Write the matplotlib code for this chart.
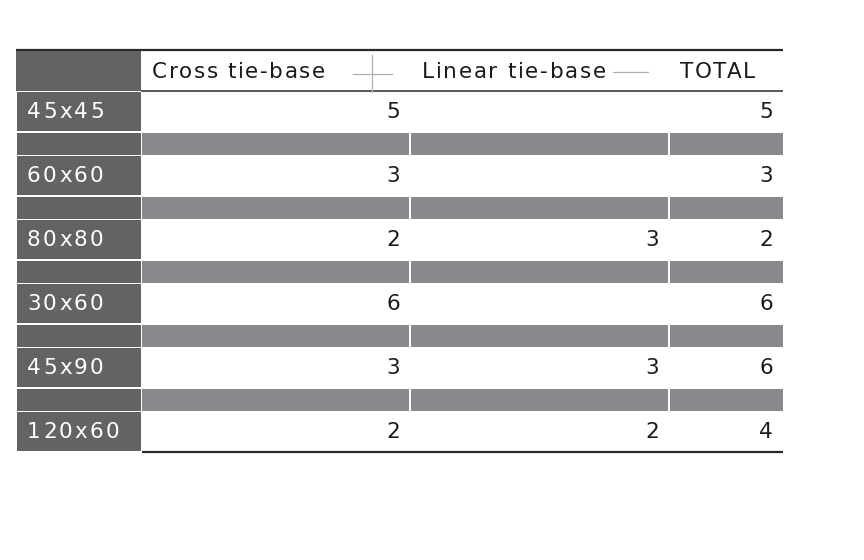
import matplotlib
matplotlib.use("Agg")
import matplotlib.pyplot as plt
from matplotlib.patches import Rectangle
from matplotlib.font_manager import FontProperties, findfont, get_font

# table content
row_labels = ["45x45", "60x60", "80x80", "30x60", "45x90", "120x60"]
col_headers = ["Cross tie-base", "Linear tie-base", "TOTAL"]
cross_vals = [5, 3, 2, 6, 3, 2]
linear_vals = [None, None, 3, None, 3, 2]
total_vals = [5, 3, 2, 6, 6, 4]

DARK = "#636366"
MID = "#88898c"
INK = "#1a1a1a"
FS = 15.5

# layout in pixels
W, H = 864, 560
x_left, x_lab = 16, 141
col_edges = [141, 410, 669, 783]
top = 50
head_bot = 91
row0 = 92
period = 64
row_h = 39
sep_h = 22
gap = 1.5

fig = plt.figure(figsize=(W / 100, H / 100), dpi=100)
ax = fig.add_axes([0, 0, 1, 1])
ax.set_xlim(0, W)
ax.set_ylim(H, 0)
ax.axis("off")
prop = FontProperties(family="DejaVu Sans", size=FS)
ft = get_font(findfont(prop))
ft.set_size(FS, 100)


def advance(ch):
    g = ft.load_char(ord(ch))
    return g.linearHoriAdvance / 65536


def tracked(x, y, s, width, color=INK):
    # spread the characters of s so that it spans roughly `width` pixels
    adv = [advance(c) for c in s]
    track = (width - sum(adv)) / (len(s) - 1)
    for ch, a in zip(s, adv):
        if ch != " ":
            ax.text(x, y, ch, ha="left", va="center", fontproperties=prop, color=color)
        x += a + track


# header
ax.add_patch(Rectangle((x_left, top), x_lab - x_left, head_bot - top, color=DARK, lw=0))
ax.plot([x_left, col_edges[-1]], [top, top], color="#2a2a2a", lw=1.6, solid_capstyle="butt")
ax.plot([x_lab, col_edges[-1]], [head_bot, head_bot], color="#2a2a2a", lw=1.1, solid_capstyle="butt")

hy = 72
tracked(152, hy, col_headers[0], 173)
ax.plot([353, 392], [74, 74], color="#b0b0b0", lw=0.9)
ax.plot([372, 372], [55, 92], color="#b0b0b0", lw=0.9)
tracked(422, hy, col_headers[1], 184)
ax.plot([613, 648], [72, 72], color="#b0b0b0", lw=0.9)
tracked(680, hy, col_headers[2], 75)

label_adv = sum(advance(c) for c in "45x45")
label_track = (76.5 - label_adv) / 4

n = len(row_labels)
for i in range(n):
    y0 = row0 + i * period
    ax.add_patch(Rectangle((x_left + 1, y0), x_lab - x_left - 1, row_h, color=DARK, lw=0))
    cy = y0 + row_h / 2 + 1
    lab = row_labels[i]
    tracked(27, cy, lab, sum(advance(c) for c in lab) + label_track * (len(lab) - 1), color="white")
    for j, vals in enumerate([cross_vals, linear_vals, total_vals]):
        v = vals[i]
        if v is not None:
            ax.text(col_edges[j + 1] - 10, cy, str(v), ha="right", va="center",
                    fontproperties=prop, color=INK)
    if i < n - 1:
        sy = y0 + row_h + gap
        ax.add_patch(Rectangle((x_left + 1, sy), x_lab - x_left - 1, sep_h, color=DARK, lw=0))
        for j in range(3):
            xa = col_edges[j] + (0.5 if j == 0 else 1)
            xb = col_edges[j + 1] - (1 if j < 2 else 0)
            ax.add_patch(Rectangle((xa, sy), xb - xa, sep_h, color=MID, lw=0))

bot = row0 + (n - 1) * period + row_h + 0.5
ax.plot([x_lab + 1, col_edges[-1]], [bot, bot], color="#2a2a2a", lw=1.6, solid_capstyle="butt")

fig.savefig("out.png", dpi=100, facecolor="white")
